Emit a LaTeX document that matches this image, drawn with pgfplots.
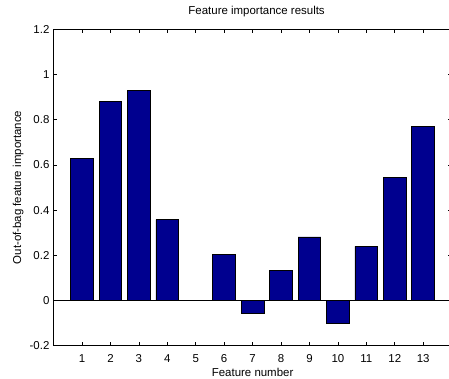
\documentclass[border=0pt]{standalone}
\usepackage{fontspec}
\setmainfont{Liberation Sans}
\usepackage{pgfplots}
\pgfplotsset{compat=1.18}
\definecolor{barblue}{RGB}{0,0,143}
\begin{document}
\fontsize{11.5}{13.8}\selectfont
\begin{tikzpicture}[x=1bp,y=1bp,font=\fontsize{11.5}{13.8}\selectfont]
\begin{axis}[
  at={(53.6bp,32.3bp)}, anchor=south west,
  scale only axis, width=398bp, height=316.4bp,
  xmin=0, xmax=14, ymin=-0.2, ymax=1.2,
  xtick={1,2,3,4,5,6,7,8,9,10,11,12,13},
  xticklabels={1,2,3,4,5,6,7,8,9,10,11,12,13},
  ytick={-0.2,0,0.2,0.4,0.6,0.8,1,1.2},
  yticklabels={-0.2,0,0.2,0.4,0.6,0.8,1,1.2},
  tick align=inside, major tick length=3.5bp,
  tick style={black, line width=0.6bp},
  axis line style={black, line width=0.9bp},
  xticklabel style={anchor=base, yshift=-16.3bp},
  yticklabel style={anchor=east, inner sep=0pt, xshift=-4bp},
  title={Feature importance results},
  title style={at={(axis description cs:0.5,1)}, anchor=base, yshift=8.8bp, xshift=4bp},
  xlabel={Feature number},
  xlabel style={at={(axis description cs:0.5,-0.0973)}, anchor=base},
  ylabel={Out-of-bag feature importance},
  ylabel style={at={(axis description cs:-0.0819,0.5)}, anchor=base},
]
\addplot[ybar, bar width=0.8, fill=barblue, draw=black, line width=0.8bp] coordinates {
  (1,0.627) (2,0.882) (3,0.931) (4,0.358) (5,0) (6,0.202) (7,-0.057)
  (8,0.132) (9,0.281) (10,-0.103) (11,0.240) (12,0.546) (13,0.769)
};
\addplot[black, line width=0.8bp, no markers] coordinates {(0,0) (14,0)};
\end{axis}
\pgfresetboundingbox
\path (0,0) rectangle (449,378);
\end{tikzpicture}
\end{document}
